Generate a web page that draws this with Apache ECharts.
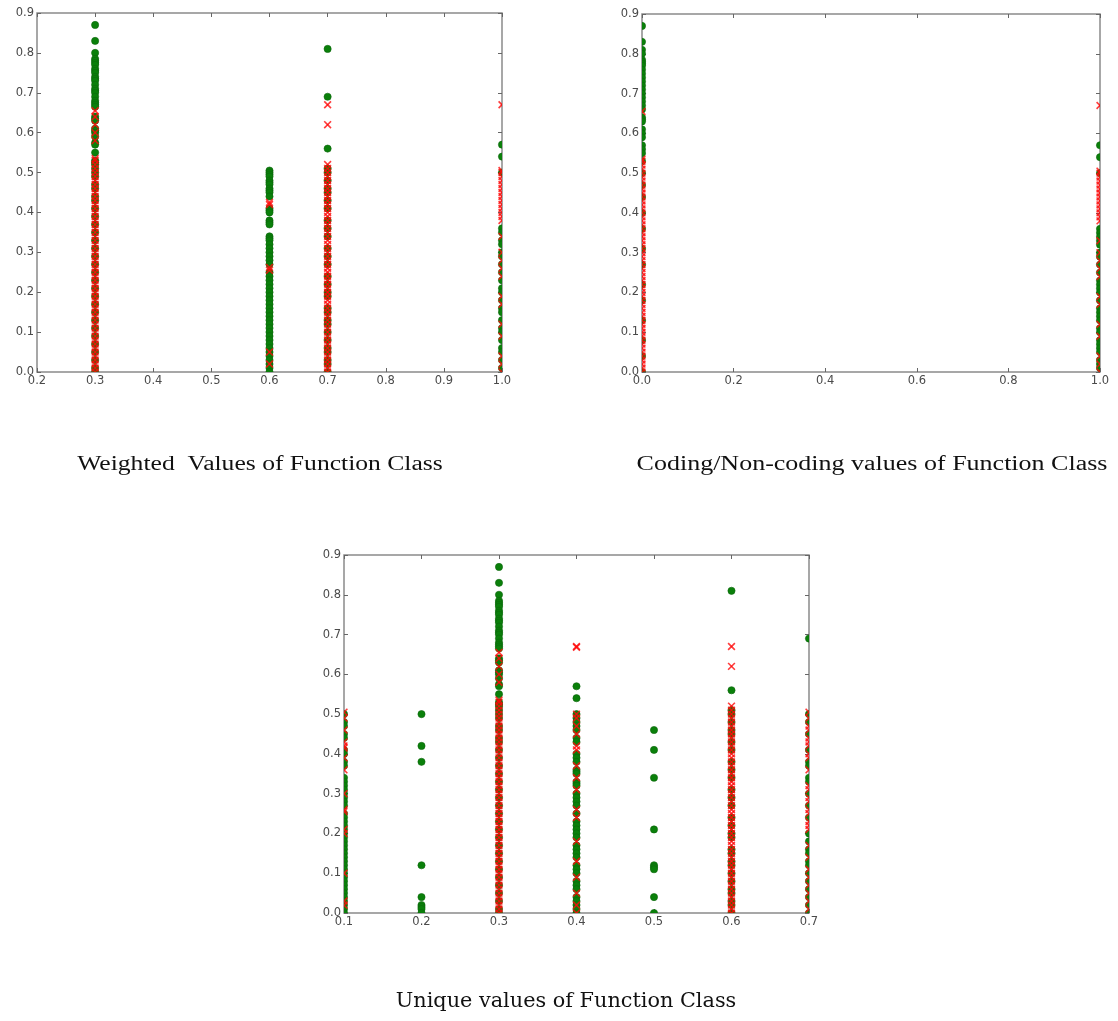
<!DOCTYPE html>
<html>
<head>
<meta charset="utf-8">
<script src="https://cdn.jsdelivr.net/npm/echarts@6/dist/echarts.min.js"></script>
<style>
html,body{margin:0;padding:0;background:#fff;}
#chart{width:1118px;height:1021px;}
</style>
</head>
<body>
<div id="chart"></div>
<script>
// ---------------- DATA ----------------
// Panel captions
const captionWeighted = 'Weighted  Values of Function Class';
const captionCoding = 'Coding/Non-coding values of Function Class';
const captionUnique = 'Unique values of Function Class';

// Axis ranges / ticks
const yRange = [0, 0.9, 0.1];
const weightedXRange = [0.2, 1.0, 0.1];
const codingXRange = [0, 1.0, 0.2];
const uniqueXRange = [0.1, 0.7, 0.1];

// --- Panel 1: Weighted values (x columns 0.3, 0.6, 0.7, 1.0) ---
const w03Green = [0.87,0.83,0.80,0.785,0.78,0.775,0.77,0.76,0.755,0.75,0.74,0.735,0.73,0.72,0.71,0.705,0.70,0.69,0.68,0.675,0.67,0.665,0.64,0.635,0.63,0.61,0.605,0.60,0.59,0.575,0.57,0.55,0.53,0.525,0.52,0.51,0.50,0.49,0.47,0.46,0.44,0.43,0.41,0.39,0.37,0.35,0.33,0.31,0.29,0.27,0.25,0.23,0.21,0.19,0.17,0.15,0.13,0.11,0.09,0.07,0.05,0.03,0.01,0.00];
const w03Red = [0.655,0.64,0.62,0.60,0.58,0.535,0.53,0.52,0.51,0.50,0.49,0.48,0.47,0.46,0.45,0.44,0.43,0.42,0.41,0.40,0.39,0.38,0.37,0.36,0.35,0.34,0.33,0.32,0.31,0.30,0.29,0.28,0.27,0.26,0.25,0.24,0.23,0.22,0.21,0.20,0.19,0.18,0.17,0.16,0.15,0.14,0.13,0.12,0.11,0.10,0.09,0.08,0.07,0.06,0.05,0.04,0.03,0.02,0.01,0.00];
const w06Green = [0.505,0.50,0.495,0.49,0.48,0.475,0.47,0.46,0.455,0.45,0.44,0.41,0.405,0.40,0.38,0.375,0.37,0.34,0.335,0.33,0.32,0.31,0.30,0.29,0.28,0.27,0.25,0.24,0.23,0.22,0.21,0.20,0.19,0.18,0.17,0.16,0.15,0.14,0.13,0.12,0.11,0.10,0.09,0.08,0.07,0.06,0.05,0.04,0.03,0.02,0.01,0.00];
const w06Red = [0.425,0.42,0.262,0.255,0.05,0.02];
const w07Green = [0.81,0.69,0.56,0.51,0.50,0.48,0.46,0.45,0.43,0.41,0.38,0.36,0.34,0.31,0.29,0.27,0.24,0.22,0.20,0.19,0.16,0.15,0.13,0.12,0.10,0.08,0.06,0.05,0.03,0.02,0.00];
const w07Red = [0.67,0.62,0.52,0.51,0.50,0.49,0.48,0.47,0.46,0.45,0.44,0.43,0.42,0.41,0.40,0.39,0.38,0.37,0.36,0.35,0.34,0.33,0.32,0.31,0.30,0.29,0.28,0.27,0.26,0.25,0.24,0.23,0.22,0.21,0.20,0.19,0.18,0.17,0.16,0.15,0.14,0.13,0.12,0.11,0.10,0.09,0.08,0.07,0.06,0.05,0.04,0.03,0.02,0.01,0.00];
const w10Green = [0.57,0.54,0.50,0.36,0.35,0.33,0.32,0.30,0.29,0.27,0.25,0.23,0.21,0.20,0.18,0.16,0.15,0.13,0.11,0.10,0.08,0.06,0.05,0.03,0.01];
const w10Red = [0.67,0.505,0.50,0.49,0.48,0.47,0.46,0.45,0.44,0.43,0.42,0.41,0.40,0.39,0.38,0.34,0.30,0.28,0.26,0.24,0.19,0.17,0.12,0.09,0.04,0.02,0.00];

// --- Panel 2: Coding / non-coding (x columns 0 and 1) ---
const c0Green = [0.87,0.83,0.81,0.80,0.785,0.78,0.775,0.77,0.76,0.75,0.74,0.73,0.72,0.71,0.70,0.69,0.68,0.67,0.66,0.64,0.635,0.63,0.61,0.60,0.59,0.57,0.56,0.55,0.53,0.50,0.47,0.44,0.40,0.36,0.31,0.27,0.22,0.18,0.13,0.08,0.04,0.00];
const c0Red = [0.655,0.535,0.53,0.52,0.51,0.50,0.49,0.48,0.47,0.46,0.45,0.44,0.43,0.42,0.41,0.40,0.39,0.38,0.37,0.36,0.35,0.34,0.33,0.32,0.31,0.30,0.29,0.28,0.27,0.26,0.25,0.24,0.23,0.22,0.21,0.20,0.19,0.18,0.17,0.16,0.15,0.14,0.13,0.12,0.11,0.10,0.09,0.08,0.07,0.06,0.05,0.04,0.03,0.02,0.01,0.00];
const c1Green = [0.57,0.54,0.50,0.36,0.35,0.34,0.33,0.32,0.30,0.29,0.27,0.25,0.23,0.22,0.21,0.20,0.18,0.16,0.15,0.14,0.13,0.11,0.10,0.08,0.07,0.06,0.05,0.03,0.02,0.01];
const c1Red = [0.67,0.505,0.50,0.49,0.48,0.47,0.46,0.45,0.44,0.43,0.42,0.41,0.40,0.39,0.38,0.33,0.30,0.28,0.26,0.24,0.19,0.17,0.12,0.09,0.04,0.02,0.00];

// --- Panel 3: Unique values (x columns 0.1 .. 0.7) ---
const u01Green = [0.50,0.48,0.47,0.45,0.44,0.41,0.40,0.38,0.37,0.34,0.33,0.32,0.31,0.30,0.29,0.28,0.27,0.25,0.24,0.23,0.22,0.21,0.20,0.19,0.18,0.17,0.16,0.15,0.14,0.13,0.12,0.11,0.10,0.09,0.08,0.07,0.06,0.05,0.04,0.03,0.02,0.01,0.00];
const u01Red = [0.505,0.49,0.46,0.43,0.42,0.415,0.39,0.36,0.30,0.26,0.255,0.21,0.20,0.10,0.03,0.02];
const u02Green = [0.50,0.42,0.38,0.12,0.04,0.02,0.015,0.01,0.00];
const u02Red = [];
const u03Green = w03Green;
const u03Red = w03Red;
const u04Green = [0.57,0.54,0.50,0.49,0.48,0.47,0.46,0.44,0.43,0.40,0.39,0.38,0.36,0.355,0.35,0.33,0.325,0.32,0.30,0.29,0.28,0.27,0.25,0.23,0.22,0.21,0.20,0.19,0.17,0.16,0.15,0.14,0.12,0.11,0.10,0.08,0.07,0.06,0.04,0.03,0.02,0.01,0.00];
const u04Red = [0.67,0.668,0.50,0.49,0.47,0.45,0.42,0.41,0.37,0.34,0.31,0.26,0.24,0.18,0.13,0.09,0.05,0.02,0.00];
const u05Green = [0.46,0.41,0.34,0.21,0.12,0.115,0.11,0.04,0.00];
const u05Red = [];
const u06Green = [0.81,0.56,0.51,0.50,0.48,0.46,0.45,0.43,0.41,0.38,0.36,0.34,0.31,0.29,0.27,0.24,0.22,0.20,0.19,0.16,0.15,0.13,0.12,0.10,0.08,0.06,0.05,0.03,0.02,0.00];
const u06Red = [0.67,0.62,0.52,0.51,0.50,0.49,0.48,0.47,0.46,0.45,0.44,0.43,0.42,0.41,0.40,0.39,0.38,0.37,0.36,0.35,0.34,0.33,0.32,0.31,0.30,0.29,0.28,0.27,0.26,0.25,0.24,0.23,0.22,0.21,0.20,0.19,0.18,0.17,0.16,0.15,0.14,0.13,0.12,0.11,0.10,0.09,0.08,0.07,0.06,0.05,0.04,0.03,0.02,0.01,0.00];
const u07Green = [0.69,0.50,0.48,0.45,0.41,0.38,0.37,0.34,0.33,0.30,0.27,0.24,0.20,0.18,0.16,0.15,0.13,0.12,0.10,0.08,0.06,0.04,0.02,0.00];
const u07Red = [0.505,0.49,0.47,0.46,0.44,0.43,0.42,0.40,0.39,0.36,0.32,0.31,0.29,0.28,0.26,0.25,0.23,0.22,0.21,0.17,0.14,0.11,0.09,0.07,0.05,0.03,0.01];

const weightedCols = [[0.3, w03Green, w03Red],[0.6, w06Green, w06Red],[0.7, w07Green, w07Red],[1.0, w10Green, w10Red]];
const codingCols = [[0, c0Green, c0Red],[1, c1Green, c1Red]];
const uniqueCols = [[0.1,u01Green,u01Red],[0.2,u02Green,u02Red],[0.3,u03Green,u03Red],[0.4,u04Green,u04Red],[0.5,u05Green,u05Red],[0.6,u06Green,u06Red],[0.7,u07Green,u07Red]];

// ---------------- CHART ----------------
const GREEN = '#0a800a';
const RED = 'rgba(255,10,10,0.8)';

function pairs(cols, idx) {
  const out = [];
  cols.forEach(c => c[idx].forEach(y => out.push([c[0], y])));
  return out;
}

function renderGreen(params, api) {
  const p = api.coord([api.value(0), api.value(1)]);
  return { type: 'circle', shape: { cx: p[0], cy: p[1], r: 3.6 }, style: { fill: GREEN, stroke: '#0b650b', lineWidth: 0.6 } };
}
function renderRed(params, api) {
  const p = api.coord([api.value(0), api.value(1)]);
  const s = 3.4;
  return { type: 'group', children: [
    { type: 'line', shape: { x1: p[0]-s, y1: p[1]-s, x2: p[0]+s, y2: p[1]+s }, style: { stroke: RED, lineWidth: 1.6 } },
    { type: 'line', shape: { x1: p[0]-s, y1: p[1]+s, x2: p[0]+s, y2: p[1]-s }, style: { stroke: RED, lineWidth: 1.6 } }
  ]};
}

const grids = [
  { left: 37, top: 13, width: 465, height: 359 },
  { left: 642, top: 14, width: 458, height: 358 },
  { left: 344, top: 555, width: 465, height: 358 }
];
const xRanges = [weightedXRange, codingXRange, uniqueXRange];
const colSets = [weightedCols, codingCols, uniqueCols];

const labelStyle = { fontSize: 11.5, color: '#4a4a4a', fontFamily: 'DejaVu Sans' };
const tickStyle = { show: true, inside: true, length: 4, lineStyle: { color: '#666', width: 1 } };

const xAxes = [], yAxes = [], series = [];
grids.forEach((g, i) => {
  const xr = xRanges[i];
  ['bottom','top'].forEach(pos => {
    xAxes.push({
      type: 'value', gridIndex: i, position: pos, min: xr[0], max: xr[1], interval: xr[2],
      axisLine: { show: false, onZero: false }, splitLine: { show: false }, axisTick: tickStyle,
      axisLabel: Object.assign({ show: pos === 'bottom', margin: 3, formatter: v => v.toFixed(1), showMinLabel: true, showMaxLabel: true }, labelStyle)
    });
  });
  ['left','right'].forEach(pos => {
    yAxes.push({
      type: 'value', gridIndex: i, position: pos, min: yRange[0], max: yRange[1], interval: yRange[2],
      axisLine: { show: false, onZero: false }, splitLine: { show: false }, axisTick: tickStyle,
      axisLabel: Object.assign({ show: pos === 'left', margin: 3, formatter: v => v.toFixed(1) }, labelStyle)
    });
  });
  series.push({
    type: 'custom', xAxisIndex: 2*i, yAxisIndex: 2*i, clip: true, silent: true,
    data: pairs(colSets[i], 1), renderItem: renderGreen, z: 2
  });
  series.push({
    type: 'custom', xAxisIndex: 2*i, yAxisIndex: 2*i, clip: true, silent: true,
    data: pairs(colSets[i], 2), renderItem: renderRed, z: 3
  });
});

function caption(text, x, y, font, sx) {
  return { type: 'text', x: x, y: y, scaleX: sx, style: { text: text, font: font, fill: '#111', textAlign: 'center', textVerticalAlign: 'middle', align: 'center', verticalAlign: 'middle' } };
}

const chart = echarts.init(document.getElementById('chart'), null, { renderer: 'canvas' });
chart.setOption({
  backgroundColor: '#fff',
  animation: false,
  grid: grids.map(g => Object.assign({ show: true, borderColor: '#8a8a8a', borderWidth: 1.5, backgroundColor: 'transparent', containLabel: false }, g)),
  xAxis: xAxes,
  yAxis: yAxes,
  series: series,
  graphic: [
    caption(captionWeighted, 260, 465, '20px "Liberation Serif"', 1.28),
    caption(captionCoding, 872, 465, '20px "Liberation Serif"', 1.3),
    caption(captionUnique, 566, 1002, '20.8px "DejaVu Serif"', 1)
  ]
});
</script>
</body>
</html>
